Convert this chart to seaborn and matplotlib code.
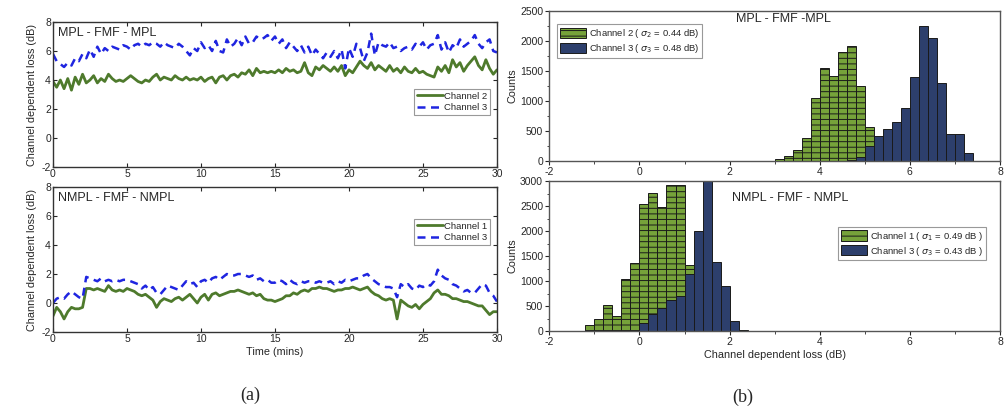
import numpy as np
import pandas as pd
import seaborn as sns
import matplotlib
matplotlib.use("Agg")
import matplotlib.pyplot as plt
from matplotlib.patches import Patch
from matplotlib.lines import Line2D

# ---------------- data ----------------
time_min = np.round(np.arange(0, 30.001, 0.25), 2)

mpl_ch2 = [3.9,3.5,4.0,3.4,4.1,3.3,4.2,3.7,4.4,3.8,4.0,4.3,
           3.8,4.1,3.9,4.4,4.1,3.9,4.0,3.9,4.1,4.3,4.1,3.9,
           3.8,4.0,3.9,4.2,4.4,4.0,4.2,4.1,4.0,4.3,4.1,4.0,
           4.2,4.0,4.1,4.0,4.2,3.9,4.1,4.2,3.8,4.2,4.3,4.0,
           4.3,4.4,4.2,4.5,4.4,4.7,4.3,4.8,4.5,4.6,4.5,4.6,
           4.5,4.7,4.5,4.8,4.6,4.7,4.5,4.6,5.2,4.5,4.3,4.9,
           4.7,5.0,4.8,4.6,4.9,4.6,5.0,4.3,4.7,4.5,4.9,5.3,
           5.0,4.8,5.2,4.7,5.0,4.8,4.6,5.0,4.6,4.8,4.5,4.9,
           4.6,4.5,4.8,4.5,4.6,4.4,4.3,4.2,4.9,4.6,5.0,4.5,
           5.4,4.9,5.2,4.6,5.0,5.3,5.6,5.0,4.7,5.4,4.8,4.4,
           4.7]
mpl_ch3 = [5.8,5.3,5.1,4.9,5.2,5.0,5.5,5.3,5.8,5.5,6.1,5.6,
           6.3,5.8,6.2,6.0,6.3,6.2,6.1,6.4,6.3,6.1,6.4,6.5,
           6.3,6.5,6.4,6.6,6.5,6.3,6.6,6.4,6.3,6.2,6.5,6.3,
           6.0,5.7,6.2,6.0,6.6,6.2,6.4,6.0,6.7,6.0,5.9,6.8,
           6.3,6.5,6.9,6.4,7.0,6.5,6.6,7.0,6.8,6.9,7.1,6.7,
           7.0,6.5,6.8,6.2,6.6,6.3,6.0,6.4,5.9,6.3,5.7,6.1,
           5.8,5.5,5.9,5.6,6.0,5.5,6.1,4.8,6.2,5.6,6.5,6.2,
           5.3,5.9,7.2,5.7,6.6,6.4,6.3,6.6,6.2,6.3,6.0,6.2,
           6.3,6.1,6.5,6.3,6.6,6.1,6.4,6.5,7.1,6.1,6.6,5.9,
           6.4,6.2,6.8,6.3,6.5,6.7,7.1,6.5,6.2,6.6,6.8,6.0,
           5.9]
nmpl_ch1 = [-0.9,-0.3,-0.6,-1.1,-0.6,-0.3,-0.4,-0.4,-0.3,1.0,1.0,0.9,
            1.0,0.9,0.8,1.2,0.9,0.8,0.9,0.8,1.0,0.9,0.8,0.6,
            0.5,0.6,0.4,0.2,-0.3,0.1,0.3,0.2,0.1,0.3,0.4,0.2,
            0.4,0.6,0.3,0.0,0.4,0.6,0.2,0.6,0.7,0.5,0.6,0.7,
            0.8,0.8,0.9,0.8,0.7,0.6,0.7,0.5,0.6,0.3,0.2,0.2,
            0.1,0.2,0.3,0.5,0.5,0.7,0.6,0.8,0.9,0.8,1.0,1.0,
            1.1,1.0,1.0,0.9,0.8,0.9,0.9,1.0,1.0,1.1,1.0,0.9,
            1.0,1.1,0.8,0.6,0.5,0.3,0.2,0.3,0.2,-1.1,0.2,0.0,
            -0.2,-0.3,-0.1,-0.4,-0.1,0.1,0.3,0.7,0.9,0.6,0.6,0.5,
            0.3,0.3,0.2,0.1,0.1,0.0,-0.1,-0.2,-0.2,-0.5,-0.8,-0.6,
            -0.6]
nmpl_ch3 = [0.0,0.3,0.4,0.3,0.6,0.8,0.6,0.4,0.3,1.8,1.7,1.6,
            1.5,1.7,1.5,1.6,1.5,1.6,1.5,1.6,1.6,1.5,1.4,1.3,
            1.0,1.2,0.9,1.1,0.7,0.6,0.9,1.2,1.1,1.0,0.9,1.2,
            1.5,1.3,1.4,1.1,1.5,1.6,1.4,1.7,1.8,1.6,1.8,2.0,
            1.9,1.9,2.0,2.0,1.9,1.8,1.9,1.6,1.7,1.5,1.6,1.4,
            1.4,1.6,1.5,1.3,1.6,1.4,1.3,1.5,1.4,1.5,1.5,1.4,
            1.5,1.4,1.4,1.5,1.3,1.5,1.4,1.6,1.5,1.6,1.7,1.7,
            1.9,2.0,1.7,1.5,1.3,1.2,1.1,1.1,1.0,0.4,1.3,1.1,
            1.3,1.0,0.9,1.2,1.1,1.3,1.2,1.5,2.3,1.9,1.7,1.6,
            1.3,1.2,1.0,0.8,0.9,0.7,0.7,1.0,1.3,1.2,0.7,0.5,
            0.1]

# histogram bins (centres, 0.2 dB wide) and counts
hist_mpl_ch2_x = [3.1,3.3,3.5,3.7,3.9,4.1,4.3,4.5,4.7,4.9,5.1]
hist_mpl_ch2_n = [28,90,180,380,1055,1545,1420,1810,1915,1250,570]
hist_mpl_ch3_x = [4.7,4.9,5.1,5.3,5.5,5.7,5.9,6.1,6.3,6.5,6.7,6.9,7.1,7.3]
hist_mpl_ch3_n = [10,60,250,415,535,655,890,1405,2255,2050,1295,455,455,128]
hist_nmpl_ch1_x = [-1.1,-0.9,-0.7,-0.5,-0.3,-0.1,0.1,0.3,0.5,0.7,0.9,1.1]
hist_nmpl_ch1_n = [127,247,520,307,1040,1353,2547,2760,2480,2913,2927,1327]
hist_nmpl_ch3_x = [0.1,0.3,0.5,0.7,0.9,1.1,1.3,1.5,1.7,1.9,2.1,2.3]
hist_nmpl_ch3_n = [160,340,460,613,693,1140,2007,3050,1380,900,210,20]

legend_mpl = ["Channel 2", "Channel 3"]
legend_nmpl = ["Channel 1", "Channel 3"]
hist_legend_mpl = [r"Channel 2 ( $\sigma_2$ = 0.44 dB)", r"Channel 3 ( $\sigma_3$ = 0.48 dB)"]
hist_legend_nmpl = [r"Channel 1 ( $\sigma_1$ = 0.49 dB )", r"Channel 3 ( $\sigma_3$ = 0.43 dB )"]

# ---------------- style ----------------
sns.set_theme(style="ticks")
plt.rcParams['font.family'] = ['Liberation Sans', 'DejaVu Sans']
plt.rcParams['mathtext.fontset'] = 'dejavusans'
plt.rcParams['axes.unicode_minus'] = False
plt.rcParams['hatch.color'] = '#1a1a1a'
plt.rcParams['hatch.linewidth'] = 0.7

GREEN_LINE = '#4e7a2c'
BLUE_LINE = '#1f25e0'
GREEN_BAR = '#76a23a'
NAVY_BAR = '#2d3f6c'

fig = plt.figure(figsize=(10.05, 4.13), dpi=100)
ax_l1 = fig.add_axes([0.0527, 0.5956, 0.4418, 0.3511])
ax_l2 = fig.add_axes([0.0527, 0.1961, 0.4418, 0.3511])
ax_r1 = fig.add_axes([0.5466, 0.6102, 0.4484, 0.3632])
ax_r2 = fig.add_axes([0.5466, 0.1985, 0.4484, 0.3632])

FS_TICK = 7.5
FS_LAB = 7.8

def line_panel(ax, a, b, names, title, legend_y):
    sns.lineplot(x=time_min, y=a, ax=ax, color=GREEN_LINE, linewidth=2.0, label=names[0])
    sns.lineplot(x=time_min, y=b, ax=ax, color=BLUE_LINE, linewidth=1.8, label=names[1])
    ax.lines[1].set_dashes((3.2, 2.2))
    ax.set_xlim(0, 30)
    ax.set_ylim(-2, 8)
    ax.set_xticks([0, 5, 10, 15, 20, 25, 30])
    ax.set_yticks([-2, 0, 2, 4, 6, 8])
    ax.tick_params(direction='in', top=True, right=True, labelsize=FS_TICK,
                   length=3, width=0.8, pad=1.5)
    for s in ax.spines.values():
        s.set_linewidth(1.0)
        s.set_color('#333333')
    ax.set_ylabel("Channel dependent loss (dB)", fontsize=FS_LAB, labelpad=3)
    ax.text(0.012, 0.965, title, transform=ax.transAxes, fontsize=9, va='top', ha='left')
    handles = [Line2D([0], [0], color=GREEN_LINE, lw=2.0),
               Line2D([0], [0], color=BLUE_LINE, lw=1.8, dashes=(3.2, 2.2))]
    leg = ax.legend(handles, names, loc='center right', bbox_to_anchor=(0.985, legend_y),
                    fontsize=6.8, frameon=True, fancybox=False, framealpha=1,
                    edgecolor='#999999', handlelength=2.8, handletextpad=0.1,
                    borderpad=0.3, labelspacing=0.25, borderaxespad=0)
    leg.get_frame().set_linewidth(0.8)

line_panel(ax_l1, mpl_ch2, mpl_ch3, legend_mpl, "MPL - FMF - MPL", 0.45)
line_panel(ax_l2, nmpl_ch1, nmpl_ch3, legend_nmpl, "NMPL - FMF - NMPL", 0.69)
ax_l1.set_xlabel("")
ax_l2.set_xlabel("Time (mins)", fontsize=FS_LAB, labelpad=2)

def draw_hist(ax, xs, ns, color, hatch):
    df = pd.DataFrame({"x": xs, "w": ns})
    lo = round(min(xs) - 0.1, 2)
    hi = round(max(xs) + 0.1, 2)
    sns.histplot(data=df, x="x", weights="w", binwidth=0.2, binrange=(lo, hi), ax=ax,
                 color=color, alpha=1, edgecolor='#1a1a1a', linewidth=0.7,
                 hatch=hatch)

def hist_panel(ax, gx, gn, bx, bn, names, title, tx, ty, ymax, leg_kw):
    draw_hist(ax, gx, gn, GREEN_BAR, '---')
    draw_hist(ax, bx, bn, NAVY_BAR, None)
    ax.set_xlim(-2, 8)
    ax.set_ylim(0, ymax)
    ax.set_xticks([-2, 0, 2, 4, 6, 8])
    ax.set_xticks([-1, 1, 3, 5, 7], minor=True)
    ax.set_yticks(np.arange(0, ymax + 1, 500))
    ax.set_yticks(np.arange(250, ymax, 500), minor=True)
    ax.tick_params(which='major', direction='out', labelsize=FS_TICK, length=3, width=0.8, pad=1.5)
    ax.tick_params(which='minor', direction='out', length=1.8, width=0.6)
    for s in ax.spines.values():
        s.set_linewidth(1.0)
        s.set_color('#555555')
    ax.set_ylabel("Counts", fontsize=FS_LAB, labelpad=2)
    ax.text(tx, ty, title, transform=ax.transAxes, fontsize=9, va='top', ha='center')
    handles = [Patch(facecolor=GREEN_BAR, edgecolor='#1a1a1a', hatch='---', linewidth=0.7),
               Patch(facecolor=NAVY_BAR, edgecolor='#1a1a1a', linewidth=0.7)]
    leg = ax.legend(handles, names, fontsize=6.8, frameon=True, fancybox=False,
                    framealpha=1, edgecolor='#999999', handlelength=2.8, handleheight=1.3,
                    handletextpad=0.3, borderpad=0.3, labelspacing=0.2,
                    borderaxespad=0, **leg_kw)
    leg.get_frame().set_linewidth(0.8)

hist_panel(ax_r1, hist_mpl_ch2_x, hist_mpl_ch2_n, hist_mpl_ch3_x, hist_mpl_ch3_n,
           hist_legend_mpl, "MPL - FMF -MPL", 0.52, 0.985, 2500,
           dict(loc='upper left', bbox_to_anchor=(0.017, 0.91)))
hist_panel(ax_r2, hist_nmpl_ch1_x, hist_nmpl_ch1_n, hist_nmpl_ch3_x, hist_nmpl_ch3_n,
           hist_legend_nmpl, "NMPL - FMF - NMPL", 0.535, 0.925, 3000,
           dict(loc='center left', bbox_to_anchor=(0.64, 0.583)))
ax_r1.set_xlabel("")
ax_r2.set_xlabel("Channel dependent loss (dB)", fontsize=FS_LAB, labelpad=2)

fig.text(250 / 1005, 1 - 395 / 413, "(a)", family=['Liberation Serif', 'DejaVu Serif'],
         fontsize=13, ha='center', va='center')
fig.text(743 / 1005, 1 - 397 / 413, "(b)", family=['Liberation Serif', 'DejaVu Serif'],
         fontsize=13, ha='center', va='center')

fig.savefig("out.png", dpi=100)
